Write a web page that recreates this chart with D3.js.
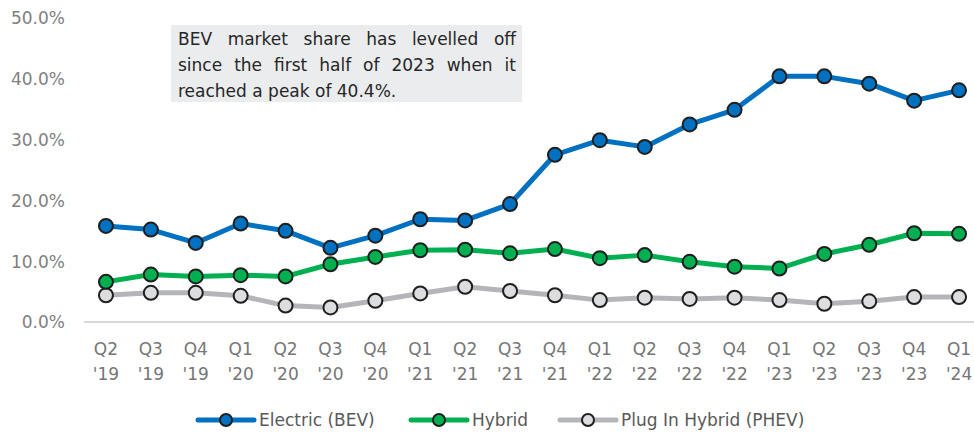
<!DOCTYPE html>
<html>
<head>
<meta charset="utf-8">
<script src="https://cdn.jsdelivr.net/npm/d3@7"></script>
<style>
  body { margin: 0; background: #fff; }
  svg text { font-family: "DejaVu Sans", sans-serif; }
</style>
</head>
<body>
<div id="chart"></div>
<script>
// quarter labels (two lines)
var quarters = ["Q2","Q3","Q4","Q1","Q2","Q3","Q4","Q1","Q2","Q3","Q4","Q1","Q2","Q3","Q4","Q1","Q2","Q3","Q4","Q1"];
var years = ["'19","'19","'19","'20","'20","'20","'20","'21","'21","'21","'21","'22","'22","'22","'22","'23","'23","'23","'23","'24"];

var bev = [15.8, 15.2, 13.0, 16.2, 15.0, 12.2, 14.2, 16.9, 16.7, 19.4, 27.5, 29.9, 28.8, 32.5, 34.9, 40.4, 40.4, 39.2, 36.4, 38.1];
var hybrid = [6.6, 7.8, 7.5, 7.7, 7.5, 9.5, 10.7, 11.8, 11.9, 11.3, 12.0, 10.5, 11.0, 9.9, 9.1, 8.8, 11.2, 12.7, 14.6, 14.5];
var phev = [4.4, 4.8, 4.8, 4.3, 2.7, 2.4, 3.5, 4.7, 5.8, 5.1, 4.4, 3.6, 4.0, 3.8, 4.0, 3.6, 3.0, 3.4, 4.1, 4.1];

var yTicks = [0, 10, 20, 30, 40, 50];

var seriesNames = ["Electric (BEV)", "Hybrid", "Plug In Hybrid (PHEV)"];
var noteLines = [
  "BEV market share has levelled off",
  "since the first half of 2023 when it",
  "reached a peak of 40.4%."
];

var width = 974, height = 433;
var fs = "17px";
var svg = d3.select("#chart").append("svg")
  .attr("width", width)
  .attr("height", height);

var series = [
  { name: seriesNames[0], values: bev, line: "#0070c0", fill: "#0070c0" },
  { name: seriesNames[1], values: hybrid, line: "#00b050", fill: "#00b050" },
  { name: seriesNames[2], values: phev, line: "#b4b5b8", fill: "#dcdddf" }
];

var x = d3.scaleBand()
  .domain(d3.range(quarters.length))
  .range([83.5, 981.5]);

var y = d3.scaleLinear()
  .domain([0, 50])
  .range([322, 18]);

var cx = i => x(i) + x.bandwidth() / 2;

// y axis labels
var yAxis = d3.axisLeft(y)
  .tickValues(yTicks)
  .tickSize(0)
  .tickPadding(0)
  .tickFormat(d => d3.format(".1f")(d) + "%");

svg.append("g")
  .attr("transform", "translate(65,0)")
  .call(yAxis)
  .call(g => g.select(".domain").remove())
  .selectAll("text")
    .attr("fill", "#7f7f7f")
    .style("font-size", fs)
    .style("font-family", "DejaVu Sans")
    .attr("dy", "0.35em");

// baseline
svg.append("line")
  .attr("x1", 84).attr("x2", 974)
  .attr("y1", y(0)).attr("y2", y(0))
  .attr("stroke", "#d9d9d9")
  .attr("stroke-width", 2);

// x labels
var xl = svg.append("g");
quarters.forEach(function(q, i) {
  var t = xl.append("text")
    .attr("x", cx(i))
    .attr("text-anchor", "middle")
    .attr("fill", "#767676")
    .style("font-size", fs);
  t.append("tspan").attr("x", cx(i)).attr("y", 355).text(q);
  t.append("tspan").attr("x", cx(i)).attr("y", 380).text(years[i]);
});

// lines and markers
var line = d3.line()
  .x((d, i) => cx(i))
  .y(d => y(d));

series.slice().reverse().forEach(function(s) {
  svg.append("path")
    .datum(s.values)
    .attr("d", line)
    .attr("fill", "none")
    .attr("stroke", s.line)
    .attr("stroke-width", 5)
    .attr("stroke-linejoin", "round");
});

series.slice().reverse().forEach(function(s) {
  svg.append("g")
    .selectAll("circle")
    .data(s.values)
    .enter()
    .append("circle")
      .attr("cx", (d, i) => cx(i))
      .attr("cy", d => y(d))
      .attr("r", 7)
      .attr("fill", s.fill)
      .attr("stroke", "#1f1f1f")
      .attr("stroke-width", 2);
});

// annotation box
svg.append("rect")
  .attr("x", 171).attr("y", 25)
  .attr("width", 351).attr("height", 77)
  .attr("fill", "#ebecee");

// justified text, last line left aligned
var noteLeft = 178, noteRight = 516;
noteLines.forEach(function(ln, li) {
  var words = ln.split(" ");
  var g = svg.append("g");
  var ws = words.map(function(w) {
    return g.append("text")
      .attr("y", 45 + li * 25.8)
      .attr("fill", "#262626")
      .style("font-size", fs)
      .text(w);
  });
  var widths = ws.map(t => t.node().getComputedTextLength());
  var total = d3.sum(widths);
  var gap = li < noteLines.length - 1 ? (noteRight - noteLeft - total) / (words.length - 1) : 5.4;
  var pos = noteLeft;
  ws.forEach(function(t, k) {
    t.attr("x", pos);
    pos += widths[k] + gap;
  });
});

// legend
var legendX = [198, 411, 560];
var legend = svg.append("g");
series.forEach(function(s, k) {
  var lx = legendX[k], ly = 420;
  legend.append("line")
    .attr("x1", lx).attr("x2", lx + 56)
    .attr("y1", ly).attr("y2", ly)
    .attr("stroke", s.line)
    .attr("stroke-width", 5)
    .attr("stroke-linecap", "round");
  legend.append("circle")
    .attr("cx", lx + 28).attr("cy", ly)
    .attr("r", 6)
    .attr("fill", s.fill)
    .attr("stroke", "#1f1f1f")
    .attr("stroke-width", 2);
  legend.append("text")
    .attr("x", lx + 61).attr("y", ly)
    .attr("dy", "0.35em")
    .attr("fill", "#595959")
    .style("font-size", fs)
    .text(s.name);
});
</script>
</body>
</html>
